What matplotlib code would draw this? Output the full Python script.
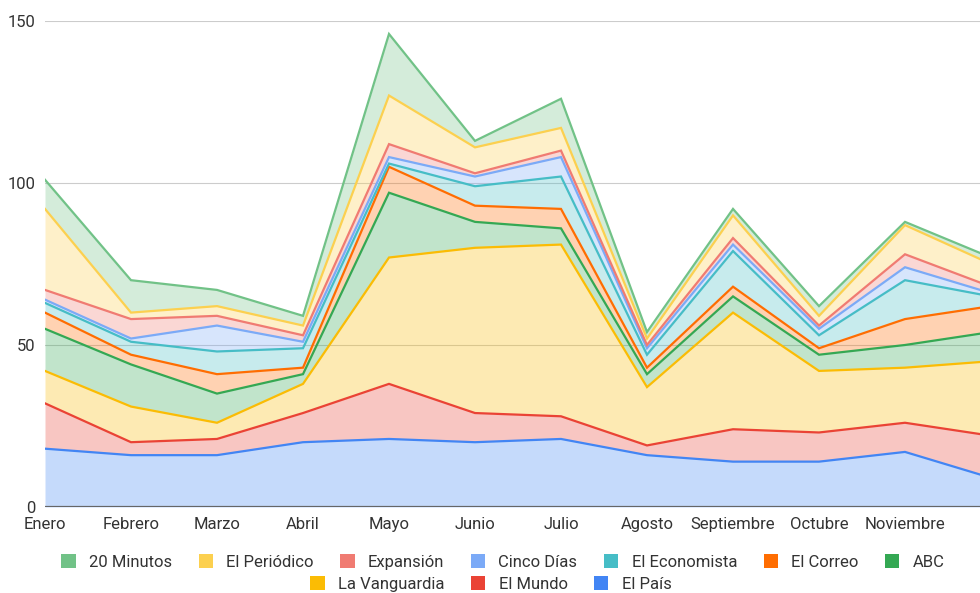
import numpy as np
import matplotlib
matplotlib.use("Agg")
import matplotlib.pyplot as plt
from matplotlib.patches import Patch

plt.rcParams['font.family'] = ['Roboto', 'DejaVu Sans']

# meses (Diciembre queda fuera del recorte, sin etiqueta)
meses = ["Enero", "Febrero", "Marzo", "Abril", "Mayo", "Junio", "Julio",
         "Agosto", "Septiembre", "Octubre", "Noviembre", "Diciembre"]

# valores por periódico (de abajo hacia arriba en la pila)
el_pais = [18, 16, 16, 20, 21, 20, 21, 16, 14, 14, 17, 9]
el_mundo = [14, 4, 5, 9, 17, 9, 7, 3, 10, 9, 9, 13]
la_vanguardia = [10, 11, 5, 9, 39, 51, 53, 18, 36, 19, 17, 23]
abc = [13, 13, 9, 3, 20, 8, 5, 4, 5, 5, 7, 9]
el_correo = [5, 3, 6, 2, 8, 5, 6, 2, 3, 2, 8, 8]
el_economista = [3, 4, 7, 6, 1, 6, 10, 4, 11, 4, 12, 3]
cinco_dias = [1, 1, 8, 2, 2, 3, 6, 2, 2, 2, 4, 1]
expansion = [3, 6, 3, 2, 4, 1, 2, 1, 2, 1, 4, 2]
el_periodico = [25, 2, 3, 3, 15, 8, 7, 2, 7, 3, 9, 7]
veinte_minutos = [9, 10, 5, 3, 19, 2, 9, 2, 2, 3, 1, 2]

series = [
    ("El País", el_pais, "#4285F4"),
    ("El Mundo", el_mundo, "#EA4335"),
    ("La Vanguardia", la_vanguardia, "#FBBC04"),
    ("ABC", abc, "#34A853"),
    ("El Correo", el_correo, "#FF6D01"),
    ("El Economista", el_economista, "#46BDC6"),
    ("Cinco Días", cinco_dias, "#7BAAF7"),
    ("Expansión", expansion, "#F07B72"),
    ("El Periódico", el_periodico, "#FCD04F"),
    ("20 Minutos", veinte_minutos, "#71C287"),
]

fig = plt.figure(figsize=(9.8, 5.93), dpi=100)
ax = fig.add_axes([45 / 980, 1 - 507 / 593, 1 - 45 / 980, (507 - 21) / 593])

x = np.arange(len(meses))
base = np.zeros(len(meses))
tops = []
for nombre, vals, color in series:
    top = base + np.array(vals, dtype=float)
    ax.fill_between(x, base, top, color=color, alpha=0.3, lw=0, zorder=2)
    tops.append(top)
    base = top

for (nombre, vals, color), top in zip(series, tops):
    ax.plot(x, top, color=color, lw=1.6, zorder=3, solid_joinstyle='miter')

ax.set_xlim(0, 10 + (980 - 905) / 86)
ax.set_ylim(0, 150)
ax.set_yticks([0, 50, 100, 150])
ax.set_xticks(x[:11])
ax.set_xticklabels(meses[:11])
ax.grid(axis='y', color='#cccccc', lw=0.8, zorder=1)
ax.set_axisbelow(True)
ax.axhline(0, color='#666666', lw=1.6, zorder=4)
for s in ax.spines.values():
    s.set_visible(False)
ax.tick_params(length=0, labelsize=12, colors='#333333')
ax.tick_params(axis='y', pad=7)
ax.tick_params(axis='x', pad=7)

# leyenda en dos filas centradas
leg_items = list(reversed(series))
h1 = [Patch(facecolor=c, edgecolor='none') for _, _, c in leg_items[:7]]
h2 = [Patch(facecolor=c, edgecolor='none') for _, _, c in leg_items[7:]]
kw = dict(frameon=False, fontsize=12, handlelength=0.85, handleheight=0.85,
          handletextpad=0.8, columnspacing=1.6, labelcolor='#333333')
fig.legend(h1, [n for n, _, _ in leg_items[:7]], ncol=7,
           loc='center', bbox_to_anchor=(503 / 980, 1 - 562 / 593), **kw)
fig.legend(h2, [n for n, _, _ in leg_items[7:]], ncol=3,
           loc='center', bbox_to_anchor=(491 / 980, 1 - 584 / 593), **kw)

fig.savefig("out.png", dpi=100)
